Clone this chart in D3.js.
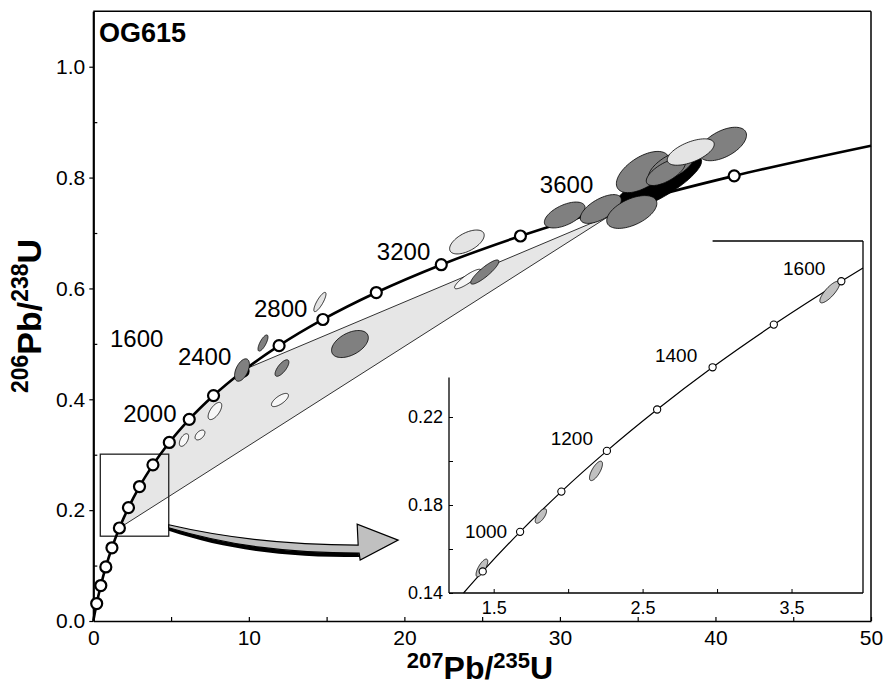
<!DOCTYPE html>
<html>
<head>
<meta charset="utf-8">
<script src="https://cdn.jsdelivr.net/npm/d3@7"></script>
<style>
  body { margin: 0; background: #fff; }
  svg { display: block; }
  text { font-family: "Liberation Sans", Arial, sans-serif; fill: #000; }
</style>
</head>
<body>
<svg id="chart" width="884" height="686"></svg>
<script>
// ------------------------------------------------------------
// Concordia diagram, sample OG615 (206Pb/238U vs 207Pb/235U)
// ------------------------------------------------------------

// concordia, main panel: ages (Ma) and their ratios
var concAges = [0, 200, 400, 600, 800, 1000, 1200, 1400, 1600, 1800, 2000, 2200,
                2400, 2600, 2800, 3000, 3200, 3400, 3600, 3800, 3992];
var concX = [0, 0.2177, 0.4828, 0.8057, 1.1988, 1.6774, 2.2602, 2.9700, 3.8344, 4.8868,
             6.1686, 7.7292, 9.6297, 11.944, 14.762, 18.194, 22.372, 27.461, 33.657, 41.203, 50.0];
var concY = [0, 0.0315, 0.0640, 0.0975, 0.1321, 0.1678, 0.2046, 0.2426, 0.2817, 0.3221,
             0.3638, 0.4067, 0.4511, 0.4968, 0.5440, 0.5926, 0.6428, 0.6946, 0.7480, 0.8031, 0.8576];

// concordia, inset: ages (Ma) and their ratios
var insetAges = [845, 900, 1000, 1100, 1200, 1300, 1400, 1500, 1600, 1630];
var insetX = [1.2977, 1.4264, 1.6774, 1.9546, 2.2602, 2.5977, 2.9700, 3.3811, 3.8344, 3.98];
var insetY = [0.1400, 0.1498, 0.1678, 0.1861, 0.2046, 0.2234, 0.2426, 0.2620, 0.2817, 0.2877];

// discordia envelope (shaded band)
var envelopeX = [1.677, 2.260, 2.970, 3.834, 4.887, 6.169, 7.729, 9.630, 10.07, 33.27];
var envelopeY = [0.1678, 0.2046, 0.2426, 0.2817, 0.3221, 0.3638, 0.4067, 0.4511, 0.458, 0.7325];

// error ellipses, main panel: centre, half-extent in x / y, error correlation, tone
var ellX   = [36.29, 40.47, 35.33, 37.19, 36.81, 38.41, 30.31, 32.63, 34.62,
              24.02, 24.08, 25.17, 16.50, 14.57, 10.91, 9.56, 12.13, 12.00, 7.82, 6.86, 5.83];
var ellY   = [0.7884, 0.8606, 0.8100, 0.8209, 0.8100, 0.8461, 0.7325, 0.7433, 0.7379,
              0.6838, 0.6170, 0.6296, 0.4997, 0.5755, 0.5015, 0.4528, 0.4564, 0.3987, 0.3789, 0.3356, 0.3265];
var ellSx  = [2.819, 1.526, 1.700, 1.490, 1.258, 1.509, 1.310, 1.320, 1.612,
              1.112, 0.855, 0.906, 1.183, 0.391, 0.321, 0.478, 0.444, 0.547, 0.438, 0.316, 0.298];
var ellSy  = [0.0501, 0.0302, 0.0372, 0.0291, 0.0243, 0.0238, 0.0234, 0.0260, 0.0296,
              0.0216, 0.0176, 0.0218, 0.0244, 0.0174, 0.0146, 0.0202, 0.0149, 0.0119, 0.0155, 0.00886, 0.0114];
var ellRho = [0.819, 0.528, 0.565, 0.643, 0.661, 0.589, 0.556, 0.628, 0.521,
              0.561, 0.870, 0.879, 0.465, 0.827, 0.741, 0.498, 0.714, 0.703, 0.640, 0.492, 0.545];
var ellTone = ['black', 'dark', 'dark', 'dark', 'dark', 'light', 'dark', 'dark', 'dark',
               'light', 'white', 'dark', 'dark', 'light', 'dark', 'dark', 'dark', 'white', 'white', 'white', 'white'];

// error ellipses, inset
var insEllX   = [1.421, 1.817, 2.187, 3.757];
var insEllY   = [0.1514, 0.1750, 0.1955, 0.2768];
var insEllSx  = [0.0393, 0.0380, 0.0436, 0.0668];
var insEllSy  = [0.00402, 0.00330, 0.00442, 0.00492];
var insEllRho = [0.735, 0.687, 0.719, 0.811];

// tick values and labels
var xTicks = [0, 5, 10, 15, 20, 25, 30, 35, 40, 45, 50];
var yMajor = [0, 0.2, 0.4, 0.6, 0.8, 1.0];
var yMinor = [0.1, 0.3, 0.5, 0.7, 0.9];
var insXTicks = [1.5, 2.0, 2.5, 3.0, 3.5];
var insXLabels = [1.5, 2.5, 3.5];
var insYTicks = [0.14, 0.16, 0.18, 0.20, 0.22];
var insYLabels = [0.14, 0.18, 0.22];

// age labels (text + anchor in ratio units)
var ageLabels = ['1600', '2000', '2400', '2800', '3200', '3600'];
var ageLabelAt = [[1.07, 0.4943], [1.92, 0.3596], [5.44, 0.4618], [10.33, 0.5490], [18.23, 0.6513], [28.71, 0.7716]];
var insLabels = ['1000', '1200', '1400', '1600'];
var insLabelAt = [[1.307, 0.1649], [1.883, 0.2073], [2.583, 0.2451], [3.443, 0.2845]];

var tones = { black: '#000000', dark: '#808080', light: '#e4e4e4', white: '#f7f7f7', inset: '#c0c0c0' };

// ------------------------------------------------------------
var svg = d3.select('#chart');

var x = d3.scaleLinear().domain([0, 50]).range([93.3, 871]);
var y = d3.scaleLinear().domain([0, 1.1]).range([621, 11.3]);
var xi = d3.scaleLinear().domain([1.2, 3.98]).range([449, 863]);
var yi = d3.scaleLinear().domain([0.14, 0.30]).range([593, 241]);

function ellipsePath(cx, cy, hx, hy, rho, sx, sy) {
    var k = Math.sqrt(1 - rho * rho);
    var pts = d3.range(72).map(function (i) {
        var t = i / 72 * 2 * Math.PI;
        return [sx(cx + hx * Math.cos(t)), sy(cy + hy * (rho * Math.cos(t) + k * Math.sin(t)))];
    });
    return d3.line().curve(d3.curveCardinalClosed)(pts);
}

// shaded discordia envelope
var envLine = d3.line().x(function (d) { return x(d[0]); }).y(function (d) { return y(d[1]); })
    .curve(d3.curveLinearClosed);
svg.append('path')
    .datum(envelopeX.map(function (v, i) { return [v, envelopeY[i]]; }))
    .attr('d', envLine)
    .attr('fill', '#e6e6e6')
    .attr('stroke', '#000')
    .attr('stroke-width', 0.8);

// main axes (font size set after .call, the axis resets it)
var gx = svg.append('g')
    .attr('transform', 'translate(0,621)')
    .call(d3.axisBottom(x).tickValues(xTicks).tickSize(-4).tickSizeOuter(0).tickPadding(9)
        .tickFormat(function (d) { return d % 10 === 0 ? d : ''; }))
    .attr('font-size', 21);
gx.select('.domain').attr('stroke-width', 1.6);
gx.selectAll('.tick line').attr('stroke-width', 1.2);

var gy = svg.append('g')
    .attr('transform', 'translate(93.3,0)')
    .call(d3.axisLeft(y).tickValues(yMajor).tickSize(4).tickSizeOuter(0).tickPadding(4)
        .tickFormat(d3.format('.1f')))
    .attr('font-size', 21);
gy.select('.domain').attr('stroke-width', 2.2);
gy.selectAll('.tick line').attr('stroke-width', 1.2);

var gyMinor = svg.append('g')
    .attr('transform', 'translate(93.3,0)')
    .call(d3.axisLeft(y).tickValues(yMinor).tickSize(-4).tickFormat(function () { return ''; }));
gyMinor.select('.domain').remove();
gyMinor.selectAll('.tick text').remove();
gyMinor.selectAll('.tick line').attr('stroke-width', 1.2);

// frame top / right
svg.append('line').attr('x1', x(0)).attr('x2', x(50)).attr('y1', y(1.1)).attr('y2', y(1.1))
    .attr('stroke', '#000').attr('stroke-width', 1.5);
svg.append('line').attr('x1', x(50)).attr('x2', x(50)).attr('y1', y(1.1)).attr('y2', y(0))
    .attr('stroke', '#000').attr('stroke-width', 1.5);

// box marking the inset region
svg.append('rect')
    .attr('x', x(0.45)).attr('y', y(0.301))
    .attr('width', x(4.85) - x(0.45)).attr('height', y(0.153) - y(0.301))
    .attr('fill', 'none').attr('stroke', '#222').attr('stroke-width', 1.3);

// concordia curve + age markers
var concPts = concX.map(function (v, i) { return [v, concY[i]]; });
svg.append('path')
    .datum(concPts)
    .attr('d', d3.line().x(function (d) { return x(d[0]); }).y(function (d) { return y(d[1]); })
        .curve(d3.curveMonotoneX))
    .attr('fill', 'none').attr('stroke', '#000').attr('stroke-width', 2.6);

svg.append('g').selectAll('circle')
    .data(concPts.slice(1, concPts.length - 1))
    .join('circle')
    .attr('cx', function (d) { return x(d[0]); })
    .attr('cy', function (d) { return y(d[1]); })
    .attr('r', 5.5)
    .attr('fill', '#fff').attr('stroke', '#000').attr('stroke-width', 2.2);

// main error ellipses
svg.append('g').selectAll('path')
    .data(ellX.map(function (v, i) { return i; }))
    .join('path')
    .attr('d', function (i) { return ellipsePath(ellX[i], ellY[i], ellSx[i], ellSy[i], ellRho[i], x, y); })
    .attr('fill', function (i) { return tones[ellTone[i]]; })
    .attr('stroke', '#000').attr('stroke-width', 0.8);

// age labels
svg.append('g').attr('font-size', 24).selectAll('text')
    .data(ageLabels)
    .join('text')
    .attr('x', function (d, i) { return x(ageLabelAt[i][0]); })
    .attr('y', function (d, i) { return y(ageLabelAt[i][1]); })
    .text(function (d) { return d; });

// curved arrow from the box to the inset
var arrowFrom = [x(4.85), y(0.170)];
var arrowTo = [x(19.6), y(0.146)];
(function () {
    var sx = arrowFrom[0], sy = arrowFrom[1], tx = arrowTo[0], ty = arrowTo[1];
    // dark underside of the ribbon
    var b = d3.path();
    b.moveTo(sx, sy - 1);
    b.bezierCurveTo(sx + 60, sy + 15, tx - 100, ty + 9, tx - 40, ty + 9);
    b.lineTo(tx - 39, ty + 17);
    b.bezierCurveTo(tx - 110, ty + 17, sx + 60, sy + 24, sx, sy + 4);
    b.closePath();
    svg.append('path').attr('d', b.toString()).attr('fill', '#000');

    var p = d3.path();
    p.moveTo(sx, sy - 2);
    p.bezierCurveTo(sx + 60, sy + 12, tx - 100, ty + 5, tx - 40, ty + 5);
    p.lineTo(tx - 41, ty - 16);
    p.lineTo(tx, ty);
    p.lineTo(tx - 38, ty + 20);
    p.lineTo(tx - 39, ty + 13);
    p.bezierCurveTo(tx - 110, ty + 13, sx + 60, sy + 19, sx, sy + 1);
    p.closePath();
    svg.append('path').attr('d', p.toString())
        .attr('fill', '#c0c0c0').attr('stroke', '#000').attr('stroke-width', 1.2)
        .attr('stroke-linejoin', 'miter');
})();

// ------------------------------------------------------------
// inset
var gi = svg.append('g');

// frame (partly open at the top-left)
gi.append('line').attr('x1', xi(1.2)).attr('x2', xi(3.98)).attr('y1', yi(0.14)).attr('y2', yi(0.14))
    .attr('stroke', '#000').attr('stroke-width', 1.3);
gi.append('line').attr('x1', xi(3.98)).attr('x2', xi(3.98)).attr('y1', yi(0.30)).attr('y2', yi(0.14))
    .attr('stroke', '#000').attr('stroke-width', 1.3);
gi.append('line').attr('x1', xi(2.97)).attr('x2', xi(3.98)).attr('y1', yi(0.30)).attr('y2', yi(0.30))
    .attr('stroke', '#000').attr('stroke-width', 1.3);
gi.append('line').attr('x1', xi(1.2)).attr('x2', xi(1.2)).attr('y1', yi(0.238)).attr('y2', yi(0.14))
    .attr('stroke', '#000').attr('stroke-width', 1.3);

var gix = gi.append('g')
    .attr('transform', 'translate(0,' + yi(0.14) + ')')
    .call(d3.axisBottom(xi).tickValues(insXTicks).tickSize(-4).tickPadding(8)
        .tickFormat(function (d) { return insXLabels.indexOf(d) >= 0 ? d.toFixed(1) : ''; }))
    .attr('font-size', 18);
gix.select('.domain').remove();

var giy = gi.append('g')
    .attr('transform', 'translate(' + xi(1.2) + ',0)')
    .call(d3.axisLeft(yi).tickValues(insYTicks).tickSize(-4).tickPadding(6)
        .tickFormat(function (d) {
            return insYLabels.some(function (v) { return Math.abs(v - d) < 1e-9; }) ? d.toFixed(2) : '';
        }))
    .attr('font-size', 18);
giy.select('.domain').remove();

// inset concordia
var insPts = insetX.map(function (v, i) { return [v, insetY[i]]; });
gi.append('path')
    .datum(insPts)
    .attr('d', d3.line().x(function (d) { return xi(d[0]); }).y(function (d) { return yi(d[1]); })
        .curve(d3.curveMonotoneX))
    .attr('fill', 'none').attr('stroke', '#000').attr('stroke-width', 1.2);

gi.append('g').selectAll('path')
    .data(insEllX.map(function (v, i) { return i; }))
    .join('path')
    .attr('d', function (i) {
        return ellipsePath(insEllX[i], insEllY[i], insEllSx[i], insEllSy[i], insEllRho[i], xi, yi);
    })
    .attr('fill', tones.inset).attr('stroke', '#000').attr('stroke-width', 0.8);

gi.append('g').selectAll('circle')
    .data(insPts.slice(1, insPts.length - 1))
    .join('circle')
    .attr('cx', function (d) { return xi(d[0]); })
    .attr('cy', function (d) { return yi(d[1]); })
    .attr('r', 3.6)
    .attr('fill', '#fff').attr('stroke', '#000').attr('stroke-width', 1.1);

gi.append('g').attr('font-size', 19).selectAll('text')
    .data(insLabels)
    .join('text')
    .attr('x', function (d, i) { return xi(insLabelAt[i][0]); })
    .attr('y', function (d, i) { return yi(insLabelAt[i][1]); })
    .text(function (d) { return d; });

// ------------------------------------------------------------
// titles
svg.append('text').attr('x', 99).attr('y', 42)
    .attr('font-size', 27).attr('font-weight', 'bold').text('OG615');

var xt = svg.append('text')
    .attr('x', 480).attr('y', 679)
    .attr('text-anchor', 'middle').attr('font-weight', 'bold').attr('font-size', 32);
xt.append('tspan').attr('font-size', 22).attr('dy', -11).text('207');
xt.append('tspan').attr('dy', 11).text('Pb/');
xt.append('tspan').attr('font-size', 22).attr('dy', -11).text('235');
xt.append('tspan').attr('dy', 11).text('U');

var yt = svg.append('text')
    .attr('transform', 'translate(41,316) rotate(-90)')
    .attr('text-anchor', 'middle').attr('font-weight', 'bold').attr('font-size', 34);
yt.append('tspan').attr('font-size', 23).attr('dy', -13).text('206');
yt.append('tspan').attr('dy', 13).text('Pb/');
yt.append('tspan').attr('font-size', 23).attr('dy', -13).text('238');
yt.append('tspan').attr('dy', 13).text('U');
</script>
</body>
</html>
